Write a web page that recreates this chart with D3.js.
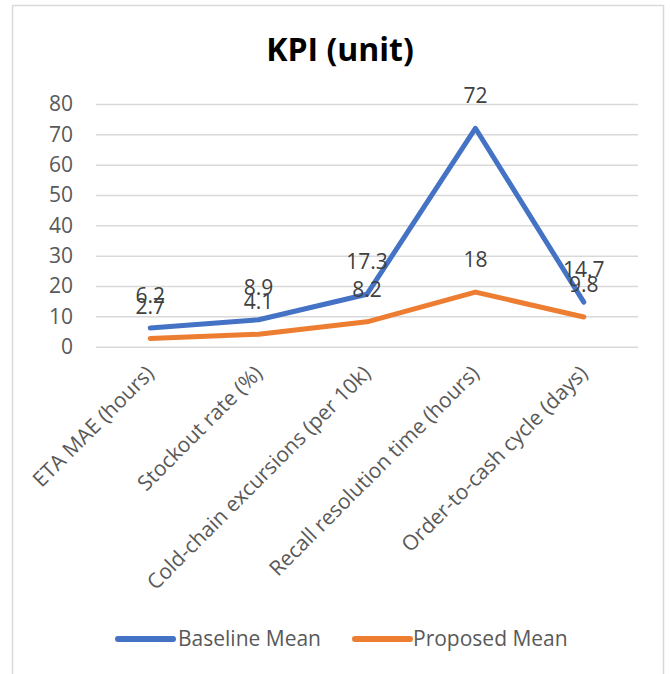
<!DOCTYPE html>
<html>
<head>
<meta charset="utf-8">
<script src="https://cdn.jsdelivr.net/npm/d3@7"></script>
<style>
  html, body { margin: 0; padding: 0; background: #fff; }
  svg { display: block; }
  text { font-family: "Open Sans", sans-serif; }
</style>
</head>
<body>
<svg id="chart" width="670" height="674"></svg>
<script>
const categories = ["ETA MAE (hours)", "Stockout rate (%)", "Cold-chain excursions (per 10k)", "Recall resolution time (hours)", "Order-to-cash cycle (days)"];
const baselineMean = [6.2, 8.9, 17.3, 72, 14.7];
const proposedMean = [2.7, 4.1, 8.2, 18, 9.8];
const yTicks = [0, 10, 20, 30, 40, 50, 60, 70, 80];
const seriesNames = ["Baseline Mean", "Proposed Mean"];
const seriesColors = ["#4472C4", "#ED7D31"];

const svg = d3.select("#chart");

// outer border
svg.append("path")
  .attr("d", "M12.5,680 L12.5,5.5 L663.5,5.5 L663.5,680")
  .attr("fill", "none").attr("stroke", "#d9d9d9").attr("stroke-width", 1.5);

const x = d3.scaleBand().domain(categories).range([96, 638]);
const y = d3.scaleLinear().domain([0, 80]).range([346.7, 104]);

// title
svg.append("text").attr("x", 340).attr("y", 61)
  .attr("text-anchor", "middle").attr("font-weight", "bold")
  .attr("font-size", 32).attr("fill", "#000").text("KPI (unit)");

// gridlines
const yAxis = d3.axisLeft(y).tickValues(yTicks).tickSize(-(638 - 96)).tickPadding(23);
const gy = svg.append("g").attr("transform", "translate(96,0)").call(yAxis);
gy.select(".domain").remove();
gy.selectAll(".tick line").attr("stroke", "#d9d9d9").attr("stroke-width", 1.5);
gy.selectAll(".tick text").attr("font-size", 21).attr("fill", "#595959")
  .attr("font-family", "Open Sans, sans-serif");

// x labels
const xAxis = d3.axisBottom(x).tickSize(0).tickPadding(0);
const gx = svg.append("g").attr("transform", "translate(0,346.7)").call(xAxis);
gx.select(".domain").remove();
gx.selectAll(".tick text")
  .attr("font-size", 21).attr("fill", "#595959")
  .attr("font-family", "Open Sans, sans-serif")
  .attr("text-anchor", "end")
  .attr("dy", null).attr("y", null)
  .attr("transform", "translate(5,28) rotate(-45)");

// lines
const seriesData = [baselineMean, proposedMean];
const line = d3.line().x((d, i) => x(categories[i]) + x.bandwidth() / 2).y(d => y(d));
seriesData.forEach((vals, si) => {
  svg.append("path").datum(vals)
    .attr("d", line)
    .attr("fill", "none")
    .attr("stroke", seriesColors[si])
    .attr("stroke-width", 5)
    .attr("stroke-linejoin", "round")
    .attr("stroke-linecap", "round");
});

// data labels
seriesData.forEach((vals, si) => {
  svg.append("g").selectAll("text").data(vals).join("text")
    .attr("x", (d, i) => x(categories[i]) + x.bandwidth() / 2)
    .attr("y", d => y(d) - 25)
    .attr("text-anchor", "middle")
    .attr("font-size", 21).attr("fill", "#404040")
    .text(d => d);
});

// legend
const legendItems = [
  { name: seriesNames[0], color: seriesColors[0], x1: 118, x2: 173, tx: 178 },
  { name: seriesNames[1], color: seriesColors[1], x1: 355, x2: 410, tx: 413 }
];
const lg = svg.append("g");
legendItems.forEach(it => {
  lg.append("line").attr("x1", it.x1).attr("x2", it.x2).attr("y1", 639).attr("y2", 639)
    .attr("stroke", it.color).attr("stroke-width", 6).attr("stroke-linecap", "round");
  lg.append("text").attr("x", it.tx).attr("y", 646).attr("font-size", 21)
    .attr("fill", "#595959").text(it.name);
});
</script>
</body>
</html>
